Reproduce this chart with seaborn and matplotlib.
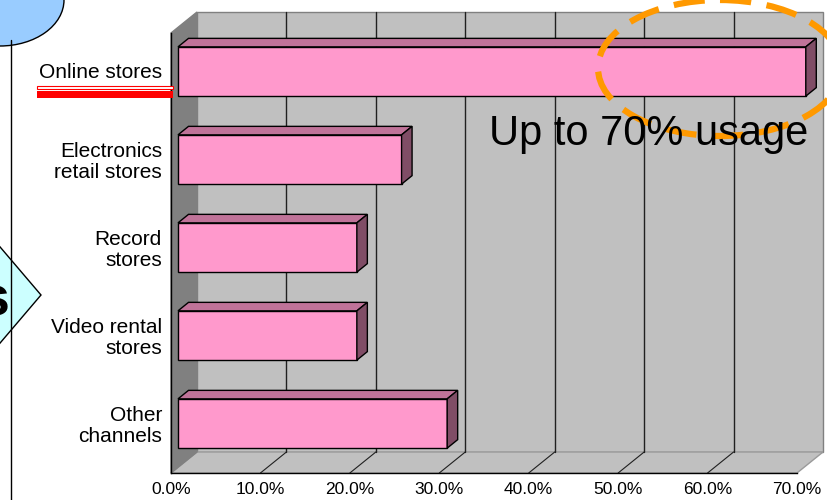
import matplotlib
matplotlib.use('Agg')
import matplotlib.pyplot as plt
import seaborn as sns
from matplotlib.patches import Polygon, Rectangle, Ellipse
from matplotlib.lines import Line2D
from matplotlib.transforms import Affine2D

categories = ['Online stores', 'Electronics\nretail stores', 'Record\nstores',
              'Video rental\nstores', 'Other\nchannels']
usage = [70.2, 25.0, 20.0, 20.0, 30.1]
x_ticks = [0, 10, 20, 30, 40, 50, 60, 70]
x_tick_labels = ['0.0%', '10.0%', '20.0%', '30.0%', '40.0%', '50.0%', '60.0%', '70.0%']
note = 'Up to 70% usage'

W, H = 828, 500


def px(fig):
    # image pixel coords (origin top-left) -> figure
    return Affine2D().scale(1, -1).translate(0, H).scale(1 / W, 1 / H) + fig.transFigure


def draw_chart():
    sns.set_style('white')
    plt.rcParams['font.family'] = ['Liberation Sans', 'DejaVu Sans']
    plt.rcParams['text.color'] = 'black'
    plt.rcParams['xtick.color'] = 'black'
    plt.rcParams['ytick.color'] = 'black'
    plt.rcParams['xtick.labelcolor'] = 'black'
    plt.rcParams['ytick.labelcolor'] = 'black'

    fig = plt.figure(figsize=(W / 100, H / 100), dpi=100)
    ax = fig.add_axes([171 / W, 27 / H, 626 / W, 440 / H])
    ax.set_facecolor('none')

    xmax = x_ticks[-1]
    n = len(categories)
    # depth of the box, in data units
    dx = 26 / 626 * xmax
    dy = 21 / 88
    top, bot = -0.5, n - 0.5

    # walls and floor
    ax.add_patch(Rectangle((dx, top - dy), xmax, n, facecolor='#c0c0c0',
                           edgecolor='#808080', lw=1, zorder=0.1, clip_on=False))
    ax.add_patch(Polygon([(0, bot), (xmax, bot), (xmax + dx, bot - dy), (dx, bot - dy)],
                         facecolor='#c0c0c0', edgecolor='#9a9a9a', lw=1, zorder=0.2, clip_on=False))
    ax.add_patch(Polygon([(0, top), (dx, top - dy), (dx, bot - dy), (0, bot)],
                         facecolor='#808080', edgecolor='#808080', lw=1, zorder=0.3, clip_on=False))
    for v in x_ticks[1:-1]:
        ax.plot([v + dx, v + dx], [top - dy, bot - dy], color='#202020', lw=1, zorder=0.5, clip_on=False)
        ax.plot([v, v + dx], [bot, bot - dy], color='#202020', lw=0.8, zorder=0.5, clip_on=False)

    sns.barplot(x=usage, y=categories, orient='h', color='#ff99cc', width=0.56,
                edgecolor='black', linewidth=1, saturation=1, ax=ax)

    # 3d faces of bars
    ox, oy = 7 / 626 * xmax, -5.5 / 88
    bdx, bdy = 10.5 / 626 * xmax, 8.5 / 88
    for p in list(ax.patches):
        if not isinstance(p, Rectangle) or p.get_facecolor()[0] < 0.9:
            continue
        p.set_transform(Affine2D().translate(ox, oy) + ax.transData)
        p.set_clip_on(False)
        p.set_zorder(2)
        x0 = p.get_x() + ox
        x1 = x0 + p.get_width()
        y0 = p.get_y() + oy
        y1 = y0 + p.get_height()
        ax.add_patch(Polygon([(x0, y0), (x1, y0), (x1 + bdx, y0 - bdy), (x0 + bdx, y0 - bdy)],
                             facecolor='#c07399', edgecolor='black', lw=1, zorder=2, clip_on=False))
        ax.add_patch(Polygon([(x1, y0), (x1 + bdx, y0 - bdy), (x1 + bdx, y1 - bdy), (x1, y1)],
                             facecolor='#804d66', edgecolor='black', lw=1, zorder=2, clip_on=False))

    ax.set_xlim(0, xmax)
    ax.set_ylim(bot, top)
    ax.set_xlabel('')
    ax.set_ylabel('')
    for s in ['top', 'right']:
        ax.spines[s].set_visible(False)
    ax.spines['left'].set_color('black')
    ax.spines['bottom'].set_color('black')
    ax.spines['left'].set_linewidth(1)
    ax.spines['bottom'].set_linewidth(1)

    ax.set_xticks(x_ticks)
    ax.set_xticklabels(x_tick_labels, fontsize=12.5, color='black')
    ax.tick_params(axis='x', direction='in', length=4.5, width=0.8, pad=6.5, color='black')
    ax.set_yticks([i - 0.07 for i in range(n)])
    ax.set_yticklabels(categories, fontsize=15, linespacing=1.12, color='black')
    ax.tick_params(axis='y', length=0, pad=6.5)
    ax.set_yticks([i + 0.5 for i in range(n - 1)], minor=True)
    ax.tick_params(axis='y', which='minor', direction='in', length=4.5, width=0.8, color='black')
    ax.grid(False)

    T = px(fig)
    # decorations around the chart
    fig.add_artist(Line2D([11.5, 11.5], [40, 500], color='black', lw=1, transform=T))
    fig.add_artist(Ellipse((0, 0), 128, 92, facecolor='#99ccff', edgecolor='black', lw=1, transform=T))
    fig.add_artist(Polygon([(-5, 241), (41, 295), (-5, 349)], facecolor='#ccffff',
                           edgecolor='black', lw=1, transform=T))
    fig.text(9 / W, 1 - 315 / H, 's', fontsize=40, fontweight='bold', color='black',
             ha='right', va='baseline')
    fig.add_artist(Rectangle((37, 86), 136, 3, facecolor='white', edgecolor='red', lw=0.8, transform=T))
    fig.add_artist(Rectangle((37, 91), 136, 6.5, facecolor='red', edgecolor='none', transform=T))

    fig.text(489 / W, 1 - 145 / H, note, fontsize=30, color='black', ha='left', va='baseline')
    fig.add_artist(Ellipse((720, 68), 244, 136, facecolor='none', edgecolor='#ff9900', lw=4.5,
                           linestyle=(0, (5, 2.5)), transform=T))

    plt.savefig('out.png', dpi=100)
    plt.close()


if __name__ == '__main__':
    draw_chart()
